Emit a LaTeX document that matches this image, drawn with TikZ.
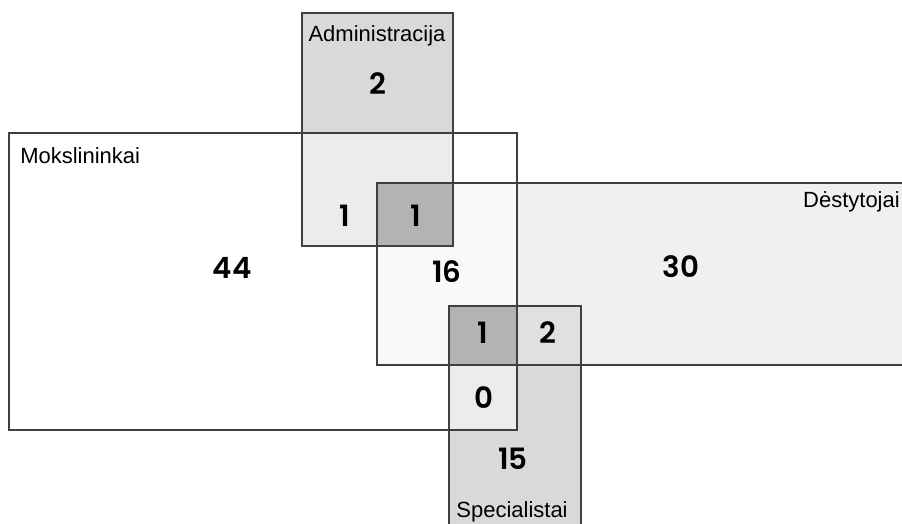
\documentclass[tikz,border=0pt]{standalone}
\usepackage{fontspec}
\setmainfont{Liberation Sans}
\newfontfamily\numfont{Poppins}[BoldFont={* SemiBold}]
\definecolor{edge}{HTML}{404040}
\definecolor{onlyA}{HTML}{D9D9D9}
\definecolor{onlyD}{HTML}{F0F0F0}
\definecolor{pairMD}{HTML}{F9F9F9}
\definecolor{pairMA}{HTML}{ECECEC}
\definecolor{pairDS}{HTML}{E0E0E0}
\definecolor{triple}{HTML}{B3B3B3}

\begin{document}
\begin{tikzpicture}[x=0.75pt,y=-0.75pt,
    set/.style={draw=edge,line width=1.5pt},
    setname/.style={font=\fontsize{16.5}{18}\selectfont,inner sep=0pt},
    count/.style={font=\numfont\bfseries\fontsize{22}{24}\selectfont,inner sep=0pt}]
    \useasboundingbox (0,0) rectangle (902,524);
    \clip (0,0) rectangle (902,524);
    % fills
    \fill[onlyA] (302,13) rectangle (453,246);
    \fill[onlyD] (377,183) rectangle (920,365);
    \fill[onlyA] (449,306) rectangle (581,540);
    \fill[pairMD] (377,183) rectangle (517,365);
    \fill[pairMA] (302,133) rectangle (453,246);
    \fill[pairMA] (449,306) rectangle (517,430);
    \fill[pairDS] (517,306) rectangle (581,365);
    \fill[triple] (377,183) rectangle (453,246);
    \fill[triple] (449,306) rectangle (517,365);
    % outlines
    \draw[set] (9,133) rectangle (517,430);
    \draw[set] (302,13) rectangle (453,246);
    \draw[set] (377,183) rectangle (920,365);
    \draw[set] (449,306) rectangle (581,540);
    % names
    \node[setname] (admin) at (377,36) {Administracija};
    \node[setname,anchor=base west] (moksl) at (20,163) {Mokslininkai};
    \node[setname,anchor=base east] (dest) at (900,207) {Dėstytojai};
    \node[setname,anchor=base] (spec) at (512,517) {Specialistai};
    % counts
    \node[count] (nA) at (378,84) {2};
    \node[count] (nMA) at (345,216) {1};
    \node[count] (nMAD) at (416,216) {1};
    \node[count] (nM) at (232,268) {44};
    \node[count] (nMD) at (447,272) {16};
    \node[count] (nD) at (681,267) {30};
    \node[count] (nMDS) at (483,333) {1};
    \node[count] (nDS) at (548,333) {2};
    \node[count] (nMS) at (484,398) {0};
    \node[count] (nS) at (513,459) {15};
\end{tikzpicture}
\end{document}
